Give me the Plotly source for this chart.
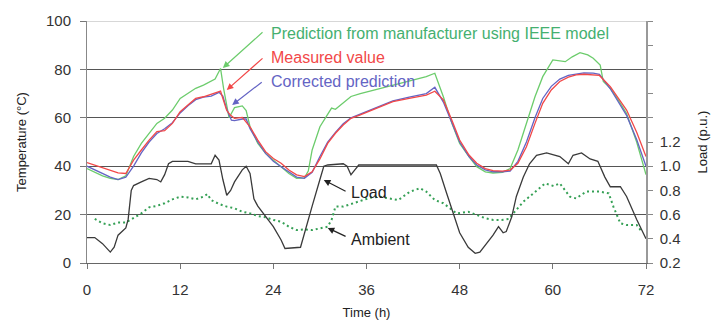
import plotly.graph_objects as go

# ---- data ----
meas_t = [0,1,2,3,4,5,6,7,8,9,10,11,12,13,14,15,16,17,17.2,18,18.5,19,20,21,22,23,24,25,26,27,28,29,30,31,32,33,34,35.2,37,39.4,41.5,43.7,44.8,45.9,47,48,49.2,50.2,51.3,52.3,53.5,54.5,55.5,56.6,57.7,58.7,59.8,60.9,62,63,64,65.2,66,67.4,68.5,69.5,70.8,72]
meas_v = [41.5,40.5,39.5,38.5,37.2,37,42.5,46.7,50.8,54.3,54.7,57.7,62.5,65.3,68,68.7,69.7,70.8,71,63,61,59.8,60.2,56.3,50.8,46,43.2,41.2,38.4,36.4,35.7,37.7,43,49.4,53.6,57,59.8,61.2,63.5,66.7,68,69.4,71,67.4,59,50.8,44.6,41.2,39,38.2,38,38.4,41.2,48,57.7,66,71.5,75,76.8,77.7,78,77.7,77.5,72.9,68,63.2,54,44]

corr_t = [0,1,2,3,4,5,6,7,8,9,10,11,12,13,14,15,16,17,17.5,18,18.6,19,20,20.5,21,22,23,24,25,26,27,28,29,30,31,32,33,34,35.2,37,39.4,41.5,43.7,44.8,45.9,47,48,49.2,50.2,51.3,52.3,53.5,54.5,55.5,56.6,57.7,58.7,59.8,60.9,62,63,64,65.2,66,67.4,68.5,69.5,70.8,72]
corr_v = [40,38.5,37,35.5,34.5,35.5,40,45.5,50,53.5,55.5,58,62,65,67.5,68.5,69,70.5,69,63.5,59,58.8,59.5,59.5,55.5,50,45.3,42,39.8,37.5,35.5,35,37.5,44,50,54,57.5,60,61.5,64,67,68.5,70,72.6,66.5,58,50,44,40.5,38.5,37.7,37.7,38,42,50,60,68,73,76,77.5,78.2,78.6,78.5,78,72,66,61,51,40]

ieee_t = [0,1,2,3,4,5,6,7,8,9,10,11,12,13,14,15,16,16.5,17.2,17.6,18.3,19,20,20.5,21,22,23,24,25,26,27,28,28.5,29,30,31,31.5,32,33,34,35.2,37,39.4,41.5,43.7,44.8,45.9,47,48,49.2,50.2,51.3,52.3,53.5,54.5,55.5,56.6,57.7,58.7,60,61.6,62.5,63.5,64.5,65.2,66.1,66.5,67.4,68.5,69.5,70.8,72]
ieee_v = [39,37.5,36,35,34.5,36,44,49.4,53.6,57.7,59.8,63.2,68,70,72.2,73.5,75,76,80.4,72,60,64.2,64.9,63,56.3,49.4,45.3,42.6,39.8,37,35,35.2,38,46.7,56.3,61.8,64,63.5,66,68.8,70,71.5,73.5,75,77,78.4,68.7,57.7,49.4,44,39.8,37.7,37.2,37.5,39,46.7,57.7,68.7,77,83.9,83.2,85.2,86.9,86,84.6,81.8,75,72.2,67,61.8,50,36.5]

amb_t = [1,2,3,4,5,6,7,8,9,10,11,12,13,14,15,15.5,16,17,18,19,20,21,22,23,24,25,26,27,28,29,30,31,31.5,32,33,34,35,36.5,37.7,39.4,40.1,41.6,42.9,43.7,44.8,45.9,47,47.6,49.1,50.2,51.3,52.3,53.4,54.3,54.9,56.2,57.5,59,60.1,60.9,62.2,63,64.3,66,67.2,67.8,68.7,69.5,70.8,71.3]
amb_v = [18.2,16.4,15.7,16.7,16.7,18.5,20.5,23,23.6,24.7,26.3,27.4,27.1,26.3,27.4,28.5,26,24.4,23.3,22.6,21.2,20.5,19.4,18.9,17.8,17.1,15,13.6,13.9,13.6,14.3,15,17.8,23.3,23.3,24.4,25.3,27,27.4,26.3,26,29.5,30.9,29.5,26,24.7,21.9,20.5,21.2,19.8,18.5,17.8,17.8,18.2,20.5,25.3,28.8,32.9,31.8,32.9,27.4,26.7,29.5,29.5,28.8,23.3,16.4,15.7,15.7,13.6]

load_t = [0,1,2,3,3.5,4,5,5.3,5.7,6,7,8,9,9.5,10,10.5,11,12,13,14,15,16,16.5,17,17.5,18,18.5,19,20,20.5,21,21.5,22,23,24,25,25.5,27.5,28,29,30,30.5,31,33,33.5,34,34.5,35,45,45.5,46.3,47.2,48,49.1,50,50.6,51.5,52.3,53,53.6,54,54.7,55.3,56.2,57,57.9,59.2,60.9,62,62.6,63.7,64.8,65.8,66.7,67.4,68.7,69.5,70.8,72]
load_pu = [0.41,0.41,0.36,0.29,0.33,0.43,0.49,0.56,0.80,0.84,0.87,0.90,0.89,0.87,0.93,1.02,1.04,1.04,1.04,1.02,1.02,1.02,1.09,1.05,0.89,0.76,0.80,0.87,0.97,1.00,0.94,0.73,0.67,0.58,0.50,0.39,0.32,0.33,0.45,0.67,0.89,1.00,1.01,1.02,1.00,0.93,0.97,1.01,1.01,0.94,0.78,0.61,0.45,0.33,0.28,0.29,0.36,0.43,0.50,0.45,0.46,0.58,0.75,0.91,1.02,1.09,1.11,1.08,1.02,1.09,1.11,1.06,1.04,0.91,0.83,0.83,0.75,0.56,0.40]

x_ticks = [0, 12, 24, 36, 48, 60, 72]
y_ticks = [0, 20, 40, 60, 80, 100]
y2_ticks = [0.2, 0.4, 0.6, 0.8, 1.0, 1.2, 1.4, 1.6, 1.8, 2.0, 2.2]
y2_labels = ["0.2", "0.4", "0.6", "0.8", "1.0", "1.2", "", "", "", "", ""]

GREEN_LINE = "#6ccc6c"
GREEN_TXT = "#45b070"
RED = "#f24848"
BLUE = "#6464c4"
LOAD = "#3a3a3a"
AMB = "#35a055"

fig = go.Figure()
fig.add_trace(go.Scatter(x=load_t, y=load_pu, yaxis="y2", mode="lines",
                         line=dict(color=LOAD, width=1.3), name="Load"))
fig.add_trace(go.Scatter(x=amb_t, y=amb_v, mode="lines",
                         line=dict(color=AMB, width=2, dash="2px,3px"), name="Ambient"))
fig.add_trace(go.Scatter(x=ieee_t, y=ieee_v, mode="lines",
                         line=dict(color=GREEN_LINE, width=1.3), name="IEEE"))
fig.add_trace(go.Scatter(x=corr_t, y=corr_v, mode="lines",
                         line=dict(color=BLUE, width=1.3), name="Corrected"))
fig.add_trace(go.Scatter(x=meas_t, y=meas_v, mode="lines",
                         line=dict(color=RED, width=1.3), name="Measured"))

tick_font = dict(family="Liberation Sans, Arial, sans-serif", size=15, color="#333")
title_font = dict(family="Liberation Sans, Arial, sans-serif", size=13, color="#222")

fig.update_layout(
    width=715, height=316,
    margin=dict(l=79, r=77, t=13, b=61, autoexpand=False),
    paper_bgcolor="white", plot_bgcolor="white",
    showlegend=False,
    xaxis=dict(range=[0, 72], tickvals=x_ticks, ticks="outside", ticklen=5,
               tickcolor="#777", showline=True, linecolor="#666", linewidth=1,
               showgrid=False, zeroline=False, tickfont=tick_font, automargin=False,
               ticklabelstandoff=8,
               title=dict(text="Time (h)", font=title_font, standoff=10)),
    yaxis=dict(range=[0, 100], tickvals=y_ticks, ticks="outside", ticklen=6,
               tickcolor="#777", showline=True, linecolor="#888", linewidth=1,
               showgrid=True, gridcolor="#555", gridwidth=1, zeroline=False,
               tickfont=tick_font, ticklabelstandoff=6, automargin=False,
               title=dict(text="Temperature (°C)", font=title_font, standoff=16)),
    yaxis2=dict(range=[0.2, 2.2], tickvals=y2_ticks, ticktext=y2_labels,
                overlaying="y", side="right", ticks="outside", ticklen=5,
                tickcolor="#888", showline=True, linecolor="#999", linewidth=1.5,
                showgrid=False, zeroline=False, tickfont=tick_font,
                ticklabelstandoff=4, automargin=False,
                title=dict(text="Load (p.u.)", font=title_font, standoff=18)),
)

# lighter top gridline
fig.add_shape(type="line", xref="paper", yref="y", x0=0, x1=1, y0=100, y1=100,
              line=dict(color="#b0b0b0", width=1), layer="above")

ann_font = "Liberation Sans, Arial, sans-serif"
arrows = [
    (17.5, 80.6, 22.8, 95.9, GREEN_LINE),
    (18.0, 71.5, 22.8, 85.1, RED),
    (18.7, 65.3, 22.7, 75.2, BLUE),
    (30.5, 34.3, 33.5, 29.3, "#222"),
    (31.0, 14.5, 33.5, 10.7, "#222"),
]
for x, y, ax, ay, c in arrows:
    fig.add_annotation(x=x, y=y, ax=ax, ay=ay, xref="x", yref="y", axref="x", ayref="y",
                       text="", showarrow=True, arrowhead=2, arrowsize=1.1,
                       arrowwidth=1.2, arrowcolor=c)

labels = [
    (23.5, 95.0, "Prediction from manufacturer using IEEE model", GREEN_TXT),
    (23.5, 85.1, "Measured value", RED),
    (23.5, 75.2, "Corrected prediction", BLUE),
    (33.8, 29.3, "Load", "#222"),
    (33.8, 9.9, "Ambient", "#222"),
]
for x, y, t, c in labels:
    fig.add_annotation(x=x, y=y, xref="x", yref="y", text=t, showarrow=False,
                       xanchor="left", yanchor="middle",
                       font=dict(family=ann_font, size=16, color=c))

fig.write_html("out.html")
